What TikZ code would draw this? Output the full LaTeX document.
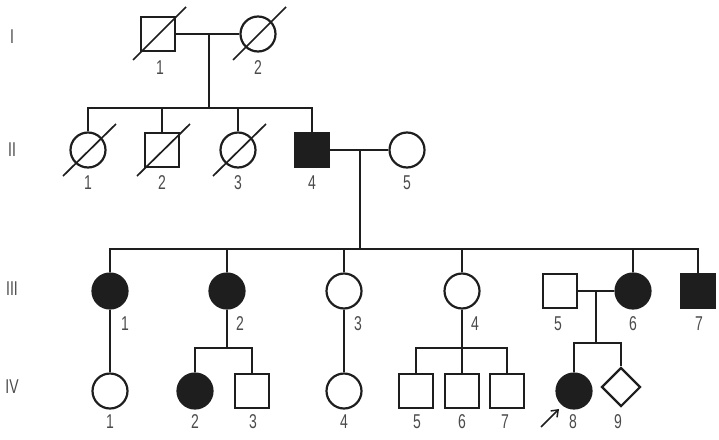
\documentclass[tikz,border=0pt]{standalone}
\usepackage{fontspec}
\setmainfont{Liberation Sans}
\usepackage{xcolor}
\usepackage{tikz}
\usetikzlibrary{arrows.meta, positioning, calc, shapes.geometric}
\definecolor{pedline}{RGB}{30, 30, 30}
\definecolor{pedtext}{RGB}{75, 75, 75}

\begin{document}
\begin{tikzpicture}[x=1pt, y=-1pt, pedline, line width=1.6pt,
    male/.style={draw=pedline, line width=2.2pt, rectangle, minimum size=34pt, inner sep=0pt, fill=white},
    female/.style={draw=pedline, line width=2.2pt, circle, minimum size=35pt, inner sep=0pt, fill=white},
    unknown/.style={draw=pedline, line width=2.2pt, diamond, minimum size=39pt, inner sep=0pt, fill=white},
    affected/.style={fill=pedline},
    lbl/.style={text=pedtext, font=\fontsize{20}{20}\selectfont, xscale=0.7, inner sep=0pt},
    slash/.style={line width=1.7pt}]
    \useasboundingbox (0,0) rectangle (719,439);
    % generation I
    \node[male] (i1) at (158,34) {};
    \node[female] (i2) at (258,34) {};
    % generation II
    \node[female] (ii1) at (88,150) {};
    \node[male] (ii2) at (162,150) {};
    \node[female] (ii3) at (238,150) {};
    \node[male, affected] (ii4) at (312,150) {};
    \node[female] (ii5) at (407,150) {};
    % generation III
    \node[female, affected] (iii1) at (110,291) {};
    \node[female, affected] (iii2) at (227,291) {};
    \node[female] (iii3) at (344,291) {};
    \node[female] (iii4) at (462,291) {};
    \node[male] (iii5) at (560,291) {};
    \node[female, affected] (iii6) at (633,291) {};
    \node[male, affected] (iii7) at (698,291) {};
    % generation IV
    \node[female] (iv1) at (110,391) {};
    \node[female, affected] (iv2) at (195,391) {};
    \node[male] (iv3) at (252,391) {};
    \node[female] (iv4) at (344,391) {};
    \node[male] (iv5) at (416,391) {};
    \node[male] (iv6) at (462,391) {};
    \node[male] (iv7) at (507,391) {};
    \node[female, affected] (iv8) at (574,391) {};
    \node[unknown] (iv9) at (621,387) {};

    % deceased
    \draw[slash] ($(i1)+(-25,26)$) -- ($(i1)+(28,-27)$);
    \draw[slash] ($(i2)+(-25,26)$) -- ($(i2)+(28,-27)$);
    \draw[slash] ($(ii1)+(-25,26)$) -- ($(ii1)+(28,-26)$);
    \draw[slash] ($(ii2)+(-25,26)$) -- ($(ii2)+(28,-26)$);
    \draw[slash] ($(ii3)+(-25,26)$) -- ($(ii3)+(28,-26)$);

    % I-1 x I-2
    \coordinate (m1) at (209,34);
    \coordinate (s1) at (209,108);
    \draw (i1) -- (i2);
    \draw (m1) -- (s1);
    \draw (ii1) -- (ii1 |- s1) -- (ii4 |- s1) -- (ii4);
    \draw (ii2) -- (ii2 |- s1);
    \draw (ii3) -- (ii3 |- s1);

    % II-4 x II-5
    \coordinate (m2) at (360,150);
    \coordinate (s2) at (360,249);
    \draw (ii4) -- (ii5);
    \draw (m2) -- (s2);
    \draw (iii1) -- (iii1 |- s2) -- (iii7 |- s2) -- (iii7);
    \draw (iii2) -- (iii2 |- s2);
    \draw (iii3) -- (iii3 |- s2);
    \draw (iii4) -- (iii4 |- s2);
    \draw (iii6) -- (iii6 |- s2);

    % III-1, III-3
    \draw (iii1) -- (iv1);
    \draw[line width=1.3pt] (iii3) -- (iv4);

    % III-2
    \coordinate (s3) at (227,348);
    \draw (iii2) -- (s3);
    \draw (iv2) -- (iv2 |- s3) -- (iv3 |- s3) -- (iv3);

    % III-4
    \coordinate (s4) at (462,348);
    \draw (iii4) -- (iv6);
    \draw (iv5) -- (iv5 |- s4) -- (iv7 |- s4) -- (iv7);

    % III-5 x III-6
    \coordinate (m3) at (596,291);
    \coordinate (s5) at (596,343);
    \draw (iii5) -- (iii6);
    \draw (m3) -- (s5);
    \draw (iv8) -- (iv8 |- s5) -- (iv9 |- s5) -- (iv9);

    % proband
    \coordinate (pb) at (541,427);
    \coordinate (pt) at (559,409);
    \draw[-{Straight Barb[length=6pt, width=9pt]}, line width=1.5pt] (pb) -- (pt);

    % generations
    \node[lbl] (g1) at (12,37) {I};
    \node[lbl] (g2) at (12,150) {II};
    \node[lbl] (g3) at (12,289) {III};
    \node[lbl] (g4) at (12,387) {IV};

    % numbers
    \node[lbl] (i1-n) at (160,68) {1};
    \node[lbl] (i2-n) at (258,68) {2};
    \node[lbl] (ii1-n) at (88,183) {1};
    \node[lbl] (ii2-n) at (162,183) {2};
    \node[lbl] (ii3-n) at (238,183) {3};
    \node[lbl] (ii4-n) at (312,183) {4};
    \node[lbl] (ii5-n) at (407,183) {5};
    \node[lbl] (iii1-n) at (125,324) {1};
    \node[lbl] (iii2-n) at (240,324) {2};
    \node[lbl] (iii3-n) at (358,324) {3};
    \node[lbl] (iii4-n) at (475,324) {4};
    \node[lbl] (iii5-n) at (558,324) {5};
    \node[lbl] (iii6-n) at (633,324) {6};
    \node[lbl] (iii7-n) at (699,324) {7};
    \node[lbl] (iv1-n) at (110,422) {1};
    \node[lbl] (iv2-n) at (195,422) {2};
    \node[lbl] (iv3-n) at (253,422) {3};
    \node[lbl] (iv4-n) at (344,422) {4};
    \node[lbl] (iv5-n) at (417,422) {5};
    \node[lbl] (iv6-n) at (462,422) {6};
    \node[lbl] (iv7-n) at (505,422) {7};
    \node[lbl] (iv8-n) at (573,422) {8};
    \node[lbl] (iv9-n) at (618,422) {9};
\end{tikzpicture}
\end{document}
